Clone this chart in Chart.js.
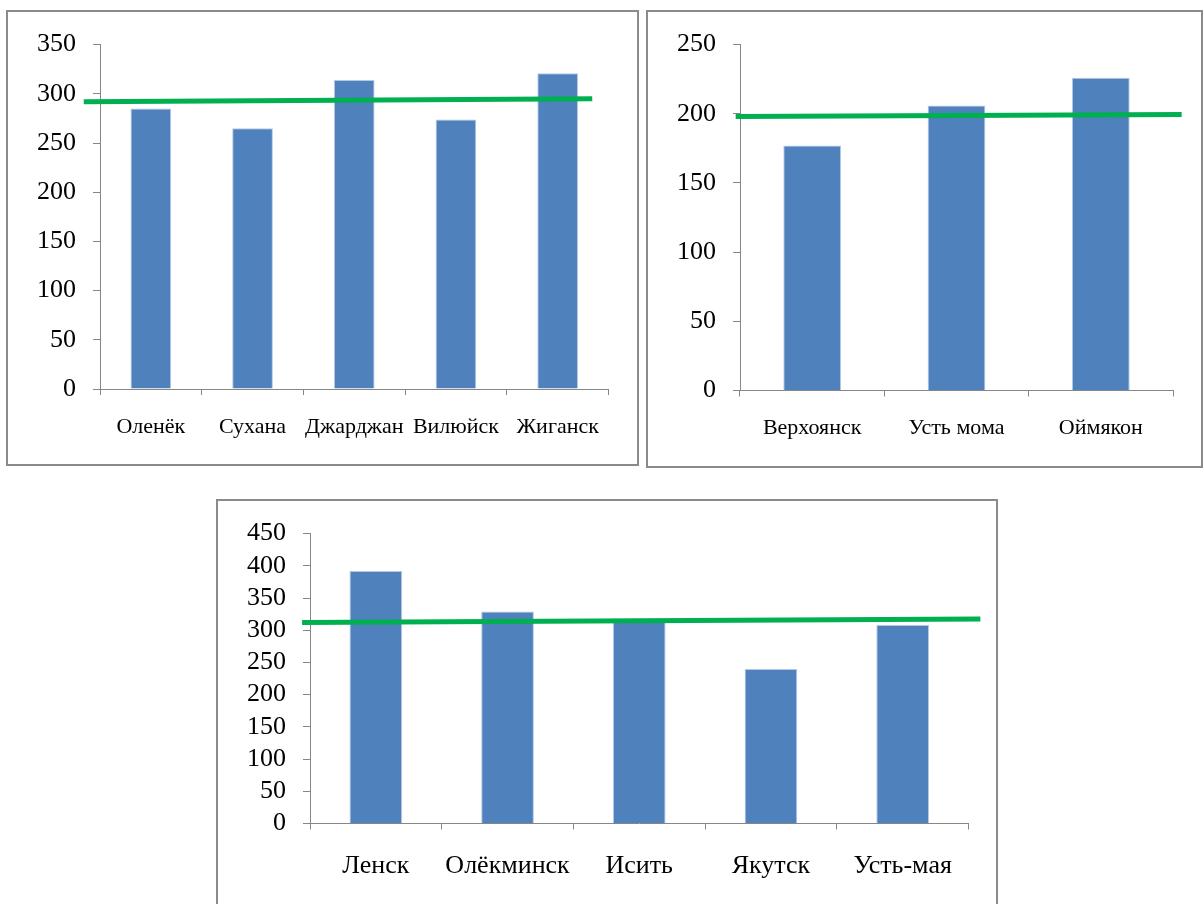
<!DOCTYPE html>
<html>
<head>
<meta charset="utf-8">
<script src="https://cdn.jsdelivr.net/npm/chart.js@4/dist/chart.umd.min.js"></script>
<style>
  html, body { margin: 0; padding: 0; background: #fff; width: 1203px; height: 904px; overflow: hidden; position: relative; }
  .frame { position: absolute; border: 2px solid #8a8a8a; box-sizing: border-box; }
  canvas { position: absolute; }
</style>
</head>
<body>
<div class="frame" style="left:6px;top:10px;width:633px;height:456px;"></div>
<div class="frame" style="left:646px;top:10px;width:557px;height:458px;"></div>
<div class="frame" style="left:216px;top:499px;width:782px;height:440px;"></div>
<canvas id="c1" width="628" height="451" style="left:8px;top:12px;"></canvas>
<canvas id="c2" width="552" height="453" style="left:648px;top:12px;"></canvas>
<canvas id="c3" width="777" height="403" style="left:218px;top:501px;"></canvas>
<script>
// Western / north-western stations
const stations1 = ['Оленёк', 'Сухана', 'Джарджан', 'Вилюйск', 'Жиганск'];
const values1 = [285, 265, 314, 274, 321];
const trendX1 = [-0.66, 4.34];
const trendY1 = [292, 295];
const yMax1 = 350;

// North-eastern stations
const stations2 = ['Верхоянск', 'Усть мома', 'Оймякон'];
const values2 = [177, 206, 226];
const trendX2 = [-0.53, 2.56];
const trendY2 = [198, 199.5];
const yMax2 = 250;

// Central / southern stations
const stations3 = ['Ленск', 'Олёкминск', 'Исить', 'Якутск', 'Усть-мая'];
const values3 = [392, 329, 313, 240, 308];
const trendX3 = [-0.56, 4.59];
const trendY3 = [312, 317.5];
const yMax3 = 450;

const AXIS = '#868686';
const FONT = 'Liberation Serif';

function makeChart(id, labels, values, tx, ty, yMax, opt) {
  const line = tx.map((x, i) => ({ x: x, y: ty[i] }));
  return new Chart(document.getElementById(id), {
    type: 'bar',
    data: {
      labels: labels,
      datasets: [
        {
          type: 'bar',
          data: values,
          xAxisID: 'x',
          backgroundColor: '#4F81BD',
          borderColor: '#B4C8E4',
          borderWidth: 1,
          grouped: false,
          categoryPercentage: 1,
          barPercentage: 0.4,
          order: 1
        },
        {
          type: 'line',
          data: line,
          xAxisID: 'xl',
          borderColor: '#00B050',
          borderWidth: 5,
          pointRadius: 0,
          clip: false,
          order: 0
        }
      ]
    },
    options: {
      responsive: false,
      animation: false,
      devicePixelRatio: 1,
      layout: { padding: { top: opt.top, right: opt.right, left: 0, bottom: 0 } },
      plugins: { legend: { display: false }, tooltip: { enabled: false } },
      scales: {
        x: {
          type: 'category',
          offset: true,
          grid: { offset: true, drawOnChartArea: false, tickLength: 6, color: AXIS },
          border: { color: AXIS, width: 1 },
          ticks: { color: '#000', font: { family: FONT, size: opt.xFont }, padding: opt.xPad, maxRotation: 0, autoSkip: false },
          afterFit: s => { s.height = opt.xh; }
        },
        xl: {
          type: 'linear',
          display: false,
          offset: false,
          min: -0.5,
          max: labels.length - 0.5
        },
        y: {
          min: 0,
          max: yMax,
          ticks: { stepSize: 50, autoSkip: false, color: '#000', font: { family: FONT, size: 26 }, padding: 17 },
          grid: { drawOnChartArea: false, tickLength: 7, color: AXIS },
          border: { color: AXIS, width: 1 },
          afterFit: s => { s.width = 92; }
        }
      }
    }
  });
}

makeChart('c1', stations1, values1, trendX1, trendY1, yMax1, { top: 28, right: 27.5, xh: 74, xFont: 22, xPad: 19 });
makeChart('c2', stations2, values2, trendX2, trendY2, yMax2, { top: 28, right: 27, xh: 74.5, xFont: 22, xPad: 19 });
makeChart('c3', stations3, values3, trendX3, trendY3, yMax3, { top: 27.7, right: 26.5, xh: 80.5, xFont: 26, xPad: 21 });
</script>
</body>
</html>
